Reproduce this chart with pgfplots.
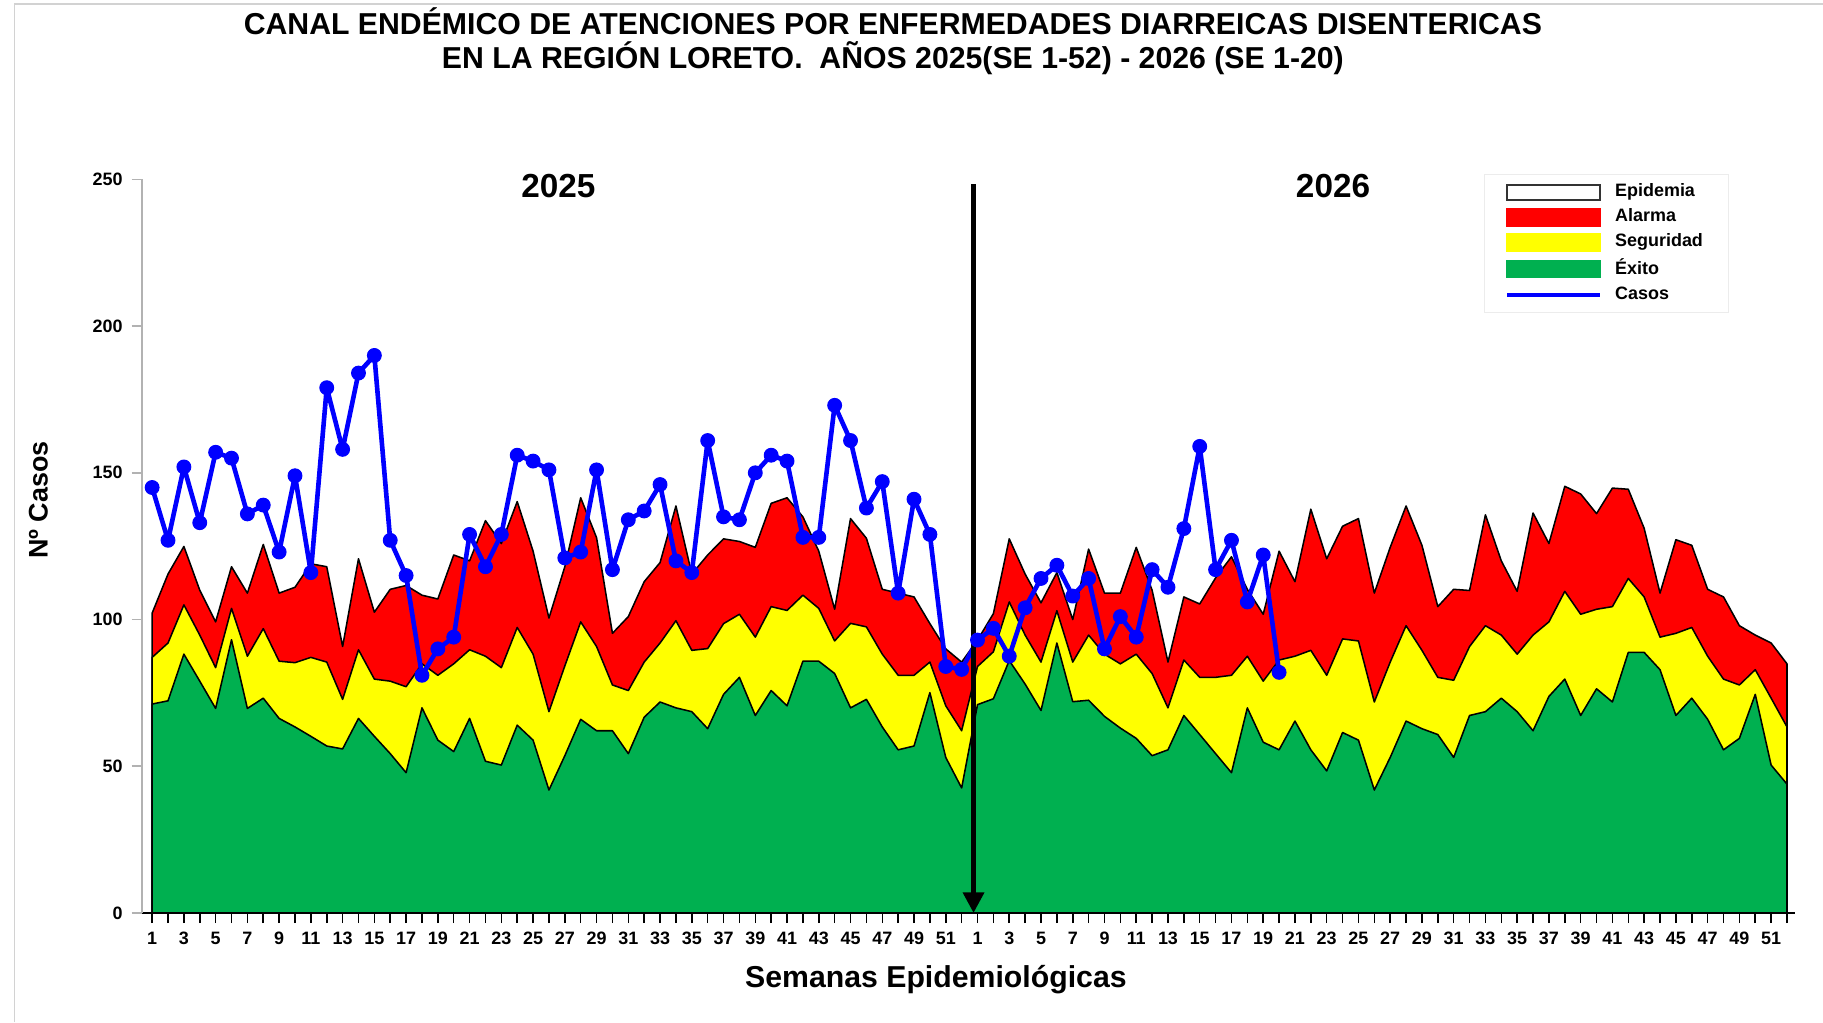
\documentclass[border=0pt]{standalone}
\usepackage{fontspec}
\setmainfont{Liberation Sans}
\usepackage{pgfplots}
\usepackage{pgfplotstable}
\pgfplotsset{compat=1.18}
\usetikzlibrary{arrows.meta}
\definecolor{exito}{RGB}{0,176,80}
\definecolor{alarma}{RGB}{255,0,0}
\definecolor{seguridad}{RGB}{255,255,0}
\definecolor{casos}{RGB}{0,0,255}

\pgfplotstableread{
x g s r
1 71.2 87.1 102.2
2 72.3 92 115.5
3 88.2 105 124.9
4 79 94.7 110
5 69.7 83.6 99.2
6 93.1 103.8 118
7 69.7 87.5 109
8 73.2 96.9 125.6
9 66.3 85.8 109
10 63.4 85.3 111
11 60.2 87.1 119
12 56.9 85.5 118
13 55.9 72.8 90.8
14 66.3 89.7 120.7
15 60.2 79.7 102.5
16 54.3 79 110.3
17 47.8 77.1 111.6
18 69.9 84.9 108.3
19 58.9 81 107
20 55 84.9 122
21 66.3 89.7 120
22 51.7 87.5 133.7
23 50.4 83.6 125.9
24 64 97.3 140.2
25 58.9 88.2 123.3
26 41.9 68.6 100.5
27 53.6 84.2 118
28 66 99.2 141.5
29 62.1 90.8 127.9
30 62.1 77.7 95.3
31 54.3 75.8 101
32 66.7 85.5 112.9
33 71.9 92 119.4
34 69.9 99.6 138.7
35 68.6 89.5 115.5
36 62.8 90.1 122
37 74.5 98.6 127.5
38 80.3 101.8 126.6
39 67.3 94 124.6
40 75.8 104.4 139.6
41 70.6 103.1 141.5
42 85.8 108.3 135
43 85.8 103.8 123.3
44 81.6 92.7 103.5
45 69.9 98.7 134.4
46 72.8 97.5 127.7
47 63.4 88.2 110.3
48 55.6 81 109
49 56.9 81 107.7
50 75.1 85.5 98.6
51 53 70.6 90
52 42.6 62.1 85.5
53 71 84 93
54 73 89 102
55 86 106 127.5
56 78 94.7 115.5
57 69 85.5 105.7
58 92 103 116
59 72 85.5 100
60 72.5 94.7 124
61 67 88.2 109
62 63 84.9 109
63 59.5 88.2 124.6
64 53.6 81.6 110
65 55.6 69.9 85.5
66 67.3 86.2 107.7
67 60.8 80.3 105.3
68 54.3 80.3 114.2
69 47.8 81 121.4
70 69.9 87.5 110.3
71 58.2 79 101.8
72 55.6 86.2 123.3
73 65.4 87.5 112.9
74 55.6 89.5 137.6
75 48.4 81 120.7
76 61.5 93.4 131.8
77 58.9 92.7 134.4
78 41.9 71.9 109
79 53 85.5 124.6
80 65.4 97.9 138.7
81 62.8 89.5 125.3
82 60.8 80.3 104.4
83 53 79.3 110.3
84 67.3 90.8 109.9
85 68.6 97.9 135.7
86 73.2 94.7 120
87 68.6 88.2 109.6
88 62.1 94.7 136.3
89 73.8 99.2 125.9
90 79.7 109.6 145.4
91 67.3 101.8 142.8
92 76.4 103.5 136.1
93 71.9 104.4 144.8
94 88.8 114 144.4
95 88.8 107.7 131.1
96 82.9 94 109
97 67.3 95.3 127.2
98 73.2 97.3 125.3
99 66 87.5 110.3
100 55.6 79.7 107.7
101 59.5 77.7 97.9
102 74.5 82.9 94.7
103 50.4 73.2 92
104 43.9 63.4 84.9
}\canal

\pgfplotstableread{
x c
1 145
2 127
3 152
4 133
5 157
6 155
7 136
8 139
9 123
10 149
11 116
12 179
13 158
14 184
15 190
16 127
17 115
18 81
19 90
20 94
21 129
22 118
23 129
24 156
25 154
26 151
27 121
28 123
29 151
30 117
31 134
32 137
33 146
34 120
35 116
36 161
37 135
38 134
39 150
40 156
41 154
42 128
43 128
44 173
45 161
46 138
47 147
48 109
49 141
50 129
51 84
52 83
53 93
54 97
55 87.5
56 104
57 114
58 118.5
59 108
60 114
61 90
62 101
63 94
64 117
65 111
66 131
67 159
68 117
69 127
70 106
71 122
72 82
}\casostab

\begin{document}
\begin{tikzpicture}
\path[use as bounding box] (-1.945cm,-1.50cm) rectangle (23.055cm,12.52cm);
\draw[gray!35, line width=0.7pt] (-1.745cm,-1.50cm) -- (-1.745cm,12.46cm) -- (23.055cm,12.46cm);
\begin{axis}[
  at={(0,0)}, anchor=south west,
  scale only axis, width=22.67cm, height=10.06cm,
  xmin=0.35, xmax=104.5, ymin=0, ymax=250,
  axis x line=bottom, axis y line=left,
  axis line style={-},
  x axis line style={black, line width=0.8pt},
  y axis line style={gray!60, line width=0.8pt},
  xtick={1,3,...,103}, minor xtick={2,4,...,104},
  xticklabels={1,3,5,7,9,11,13,15,17,19,21,23,25,27,29,31,33,35,37,39,41,43,45,47,49,51,1,3,5,7,9,11,13,15,17,19,21,23,25,27,29,31,33,35,37,39,41,43,45,47,49,51},
  ytick={0,50,...,250},
  tick align=outside,
  major tick length=4pt, minor tick length=4pt,
  x tick style={black, line width=0.6pt},
  y tick style={gray!60, line width=0.6pt},
  ticklabel style={font=\bfseries\fontsize{7}{8}\selectfont},
  /pgf/number format/assume math mode=true,
  clip=false,
  legend cell align=left,
  legend style={at={(axis cs:100.35,251.7)}, anchor=north east, draw=gray!15, fill=white,
    font=\bfseries\fontsize{7}{8}\selectfont, row sep=-0.8pt, inner xsep=8pt, inner ysep=1.5pt,
    /tikz/every odd column/.append style={column sep=3pt}},
]
\addlegendimage{legend image code/.code={\draw[draw=black!80,fill=white,line width=0.8pt] (0cm,-0.1cm) rectangle (1.28cm,0.1cm);}}
\addlegendentry{Epidemia}
\addlegendimage{legend image code/.code={\fill[alarma] (0cm,-0.12cm) rectangle (1.28cm,0.12cm);}}
\addlegendentry{Alarma}
\addlegendimage{legend image code/.code={\fill[seguridad] (0cm,-0.12cm) rectangle (1.28cm,0.12cm);}}
\addlegendentry{Seguridad}
\addlegendimage{legend image code/.code={\fill[exito] (0cm,-0.12cm) rectangle (1.28cm,0.12cm);}}
\addlegendentry{Éxito}
\addlegendimage{legend image code/.code={\draw[casos,line width=1.6pt] (0cm,0cm) -- (1.28cm,0cm);}}
\addlegendentry{Casos}

\addplot[forget plot, fill=alarma, draw=black, line width=0.6pt, line join=round] table[x=x,y=r]{\canal} \closedcycle;
\addplot[forget plot, fill=seguridad, draw=black, line width=0.6pt, line join=round] table[x=x,y=s]{\canal} \closedcycle;
\addplot[forget plot, fill=exito, draw=black, line width=0.6pt, line join=round] table[x=x,y=g]{\canal} \closedcycle;
\addplot[forget plot, casos, line width=1.8pt, line join=round, mark=*, mark size=2.7pt, mark options={fill=casos, draw=casos, line width=0.4pt}] table[x=x,y=c]{\casostab};

\draw[line width=1.8pt, -{Triangle[width=8pt,length=8pt]}] (axis cs:52.75,248.4) -- (axis cs:52.75,0);

\node[font=\bfseries\fontsize{13}{15}\selectfont] at (axis cs:26.6,247.6) {2025};
\node[font=\bfseries\fontsize{13}{15}\selectfont] at (axis cs:75.4,247.6) {2026};
\node[align=center, font=\bfseries\fontsize{11.8}{13.2}\selectfont] at (axis cs:47.67,297.1) {CANAL ENDÉMICO DE ATENCIONES POR ENFERMEDADES DIARREICAS DISENTERICAS\\EN LA REGIÓN LORETO.\ \ AÑOS 2025(SE 1-52) - 2026 (SE 1-20)};
\end{axis}
\node[rotate=90, font=\bfseries\fontsize{10.5}{12}\selectfont] at (-1.42cm,5.66cm) {Nº Casos};
\node[font=\bfseries\fontsize{11.8}{13}\selectfont] at (10.89cm,-0.92cm) {Semanas Epidemiológicas};
\end{tikzpicture}
\end{document}
